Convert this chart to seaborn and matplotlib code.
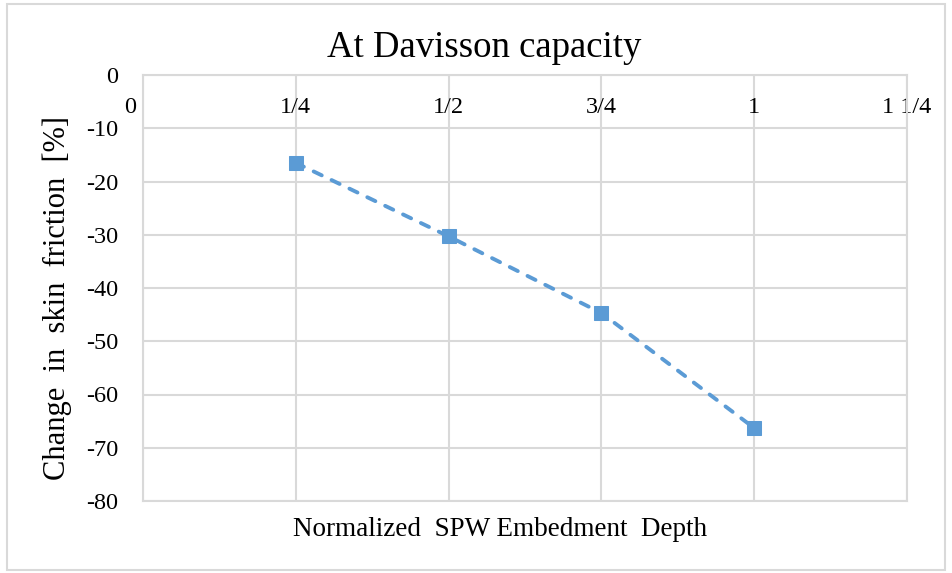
import matplotlib
matplotlib.use("Agg")
import matplotlib.pyplot as plt
import matplotlib.transforms as mtransforms
import seaborn as sns
import pandas as pd
from matplotlib.patches import Rectangle

# dati
depth = [0.25, 0.5, 0.75, 1.0]
skin_change = [-16.5, -30.3, -44.7, -66.3]
x_ticks = [0, 0.25, 0.5, 0.75, 1.0, 1.25]
x_labels = ['0', '1/4', '1/2', '3/4', '1', '1 1/4']
y_ticks = [0, -10, -20, -30, -40, -50, -60, -70, -80]

df = pd.DataFrame({'depth': depth, 'change': skin_change})

sns.set_theme(style="white")
plt.rcParams['font.family'] = ['Liberation Serif', 'DejaVu Serif']
plt.rcParams['text.color'] = 'black'

fig = plt.figure(figsize=(9.52, 5.73), dpi=100)
ax = fig.add_axes([143/952, 1 - 501/573, (907-143)/952, (501-75)/573])

sns.lineplot(data=df, x='depth', y='change', ax=ax, color='#5b9bd5',
             linewidth=2.8, linestyle=(0, (2.3, 2.8)), dash_capstyle='round',
             marker='s', markersize=10, markeredgecolor='#5b9bd5')

ax.set_xlim(0, 1.25)
ax.set_ylim(-80, 0)
ax.set_xticks(x_ticks)
ax.set_xticklabels(x_labels)
ax.set_yticks(y_ticks)
ax.set_yticklabels([str(v) for v in y_ticks])
ax.xaxis.tick_top()
ax.tick_params(axis='x', length=0, pad=-31, labelsize=17.5, colors='black')
ax.tick_params(axis='y', length=0, pad=18, labelsize=17.5, colors='black')
# lo "0" di Excel sta spostato a sinistra
lab0 = ax.get_xticklabels()[0]
lab0.set_transform(lab0.get_transform() + mtransforms.ScaledTranslation(-13/100, 0, fig.dpi_scale_trans))
ax.grid(True, color='#d9d9d9', linewidth=1.5)
ax.set_axisbelow(True)
for s in ax.spines.values():
    s.set_color('#d9d9d9')
    s.set_linewidth(1.5)

ax.set_xlabel('')
ax.set_ylabel('')
fig.text(500/952, 1 - 529/573, 'Normalized  SPW Embedment  Depth',
         ha='center', va='center', fontsize=19.5)
fig.text(57/952, 1 - 298/573, 'Change  in  skin  friction  [%]',
         ha='center', va='center', rotation=90, fontsize=22)
fig.text(484/952, 1 - 48/573, 'At Davisson capacity',
         ha='center', va='center', fontsize=26.5)

# cornice esterna
fig.patches.append(Rectangle((7/952, 3/573), 938/952, 566/573, transform=fig.transFigure,
                             fill=False, edgecolor='#d9d9d9', linewidth=1.5))

fig.savefig('out.png', dpi=100)
